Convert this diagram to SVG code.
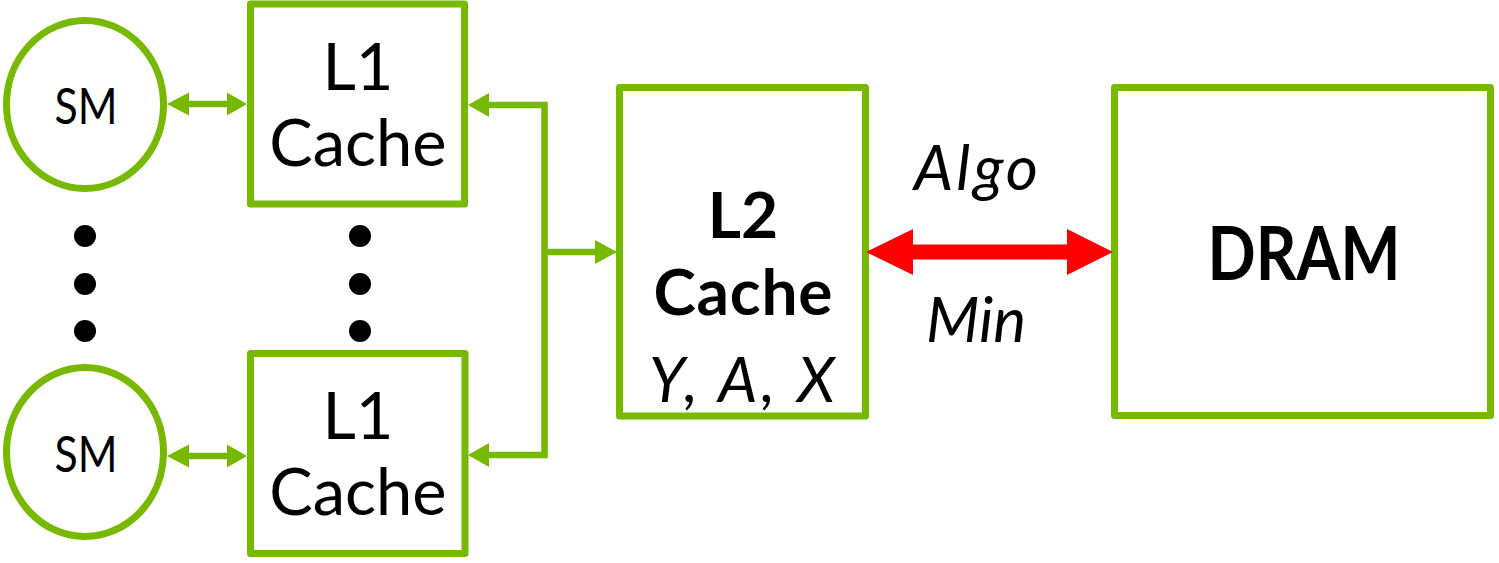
<svg xmlns="http://www.w3.org/2000/svg" width="1499" height="563" viewBox="0 0 1499 563">
<style>
.box{fill:#fff;stroke:#76B900;stroke-width:7;stroke-linejoin:round}
.ln{fill:none;stroke:#76B900;stroke-width:6.5}
.hd{fill:#76B900}
.t{font-family:Lato,"Open Sans",sans-serif;fill:#000;text-anchor:middle}
.dot{fill:#000}
</style>
<rect width="1499" height="563" fill="#fff"/>
<g id="sm1"><ellipse class="box" cx="85" cy="104.5" rx="78.5" ry="84"/><text class="t" x="86" y="124" font-size="51" textLength="63" lengthAdjust="spacingAndGlyphs">SM</text></g>
<g id="sm2"><ellipse class="box" cx="85" cy="452" rx="78.5" ry="84.5"/><text class="t" x="86" y="472" font-size="51" textLength="63" lengthAdjust="spacingAndGlyphs">SM</text></g>
<g id="l1a"><rect class="box" x="250.5" y="4" width="214" height="200"/><text class="t" x="358" y="90" font-size="65">L1</text><text class="t" x="358" y="166" font-size="65">Cache</text></g>
<g id="l1b"><rect class="box" x="250.5" y="353.5" width="214.5" height="200"/><text class="t" x="358" y="439" font-size="65">L1</text><text class="t" x="358" y="515" font-size="65">Cache</text></g>
<g id="l2"><rect class="box" x="619.5" y="87.5" width="246" height="328.5"/><text class="t" x="743" y="238" font-size="64" font-weight="bold">L2</text><text class="t" x="743" y="315" font-size="64" font-weight="bold" textLength="179">Cache</text><text class="t" x="742" y="402" font-size="62" font-style="italic" textLength="186" lengthAdjust="spacing">Y, A, X</text></g>
<g id="dram"><rect class="box" x="1114.5" y="87.5" width="376" height="328"/><text class="t" x="1304" y="280" font-size="75" font-weight="bold" textLength="193" lengthAdjust="spacingAndGlyphs">DRAM</text></g>
<g id="dots"><circle class="dot" cx="85" cy="236" r="11"/><circle class="dot" cx="85" cy="284" r="11"/><circle class="dot" cx="85" cy="331" r="11"/><circle class="dot" cx="360" cy="236" r="11"/><circle class="dot" cx="360" cy="284" r="11"/><circle class="dot" cx="360" cy="331" r="11"/></g>
<g id="connectors">
<line class="ln" x1="185" y1="104" x2="229" y2="104"/>
<polygon class="hd" points="167,104 189,92.5 189,115.5"/>
<polygon class="hd" points="247,104 227,92.5 227,115.5"/>
<line class="ln" x1="185" y1="456" x2="229" y2="456"/>
<polygon class="hd" points="167,456 189,444.5 189,467.5"/>
<polygon class="hd" points="247,456 227,444.5 227,467.5"/>
<polyline class="ln" points="487,105 544.5,105 544.5,455 487,455"/>
<polygon class="hd" points="468,105 489,93 489,117"/>
<polygon class="hd" points="468,455 489,443 489,467"/>
<line class="ln" x1="544.5" y1="252" x2="597" y2="252"/>
<polygon class="hd" points="617,252 595,240 595,264"/>
<line x1="905" y1="252" x2="1075" y2="252" stroke="#FF0000" stroke-width="15"/>
<polygon fill="#FF0000" points="866,252 913,229 913,275"/>
<polygon fill="#FF0000" points="1113,252 1067,229 1067,275"/>
</g>
<text class="t" x="976" y="190" font-size="62" font-style="italic" textLength="124" lengthAdjust="spacing">Algo</text>
<text class="t" x="976" y="342" font-size="62" font-style="italic">Min</text>
</svg>
